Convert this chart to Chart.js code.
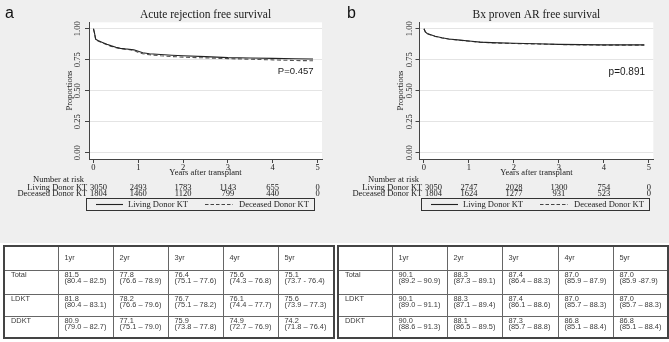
<!DOCTYPE html>
<html><head><meta charset="utf-8">
<script src="https://cdn.jsdelivr.net/npm/chart.js@4.4.1/dist/chart.umd.min.js"></script>
<style>
html,body{margin:0;padding:0;background:#fff;}
#wrap{position:relative;width:669px;height:342px;overflow:hidden;background:#fff;}
#topbg{position:absolute;left:0;top:0;width:669px;height:243px;background:#efefef;}
canvas{position:absolute;top:0;}
#ca{left:0;}
#cb{left:335px;}
.letter{position:absolute;top:5px;font-family:"Liberation Sans",Arial,sans-serif;font-size:16px;line-height:16px;color:#111;}
table.est{position:absolute;top:245px;border-collapse:collapse;table-layout:fixed;border:2px solid #444;
  font-family:"Liberation Sans",Arial,sans-serif;font-size:7.4px;color:#3a3a3a;will-change:transform;}
table.est td{border:1px solid #666;vertical-align:top;padding:1px 0 0 6px;line-height:6.8px;overflow:hidden;white-space:nowrap;}
table.est tr.head td{padding-top:7.5px;}
</style>
</head><body>
<div id="wrap">
  <div id="topbg"></div>
  <canvas id="ca" width="335" height="241"></canvas>
  <canvas id="cb" width="334" height="241"></canvas>
  <div class="letter" style="left:5px;">a</div>
  <div class="letter" style="left:347px;">b</div>
  <table class="est" id="ta" style="left:3px;width:330px;"></table>
  <table class="est" id="tb" style="left:337px;width:330px;"></table>
</div>
<script>
// ---------- data ----------
const titleA = 'Acute rejection free survival';
const titleB = 'Bx proven AR free survival';
const pTextA = 'P=0.457';
const pTextB = 'p=0.891';
const seriesNames = ['Living Donor KT', 'Deceased Donor KT'];
const xTicks = [0, 1, 2, 3, 4, 5];
const yTicks = [0, 0.25, 0.5, 0.75, 1];
const xTitle = 'Years after transplant';
const yTitle = 'Proportions';

const timesA    = [0, 0.02, 0.05, 0.1, 0.2, 0.3, 0.4, 0.5, 0.6, 0.7, 0.8, 0.9, 1.0, 1.1, 1.25, 1.5, 1.75, 2.0, 2.5, 3.0, 3.5, 4.0, 4.5, 4.9];
const livingA   = [1.000, 0.970, 0.915, 0.905, 0.890, 0.875, 0.862, 0.851, 0.842, 0.838, 0.835, 0.830, 0.818, 0.806, 0.799, 0.792, 0.786, 0.782, 0.775, 0.767, 0.764, 0.761, 0.758, 0.756];
const deceasedA = [1.000, 0.965, 0.912, 0.902, 0.886, 0.871, 0.858, 0.848, 0.840, 0.836, 0.832, 0.826, 0.809, 0.798, 0.791, 0.782, 0.776, 0.771, 0.765, 0.759, 0.754, 0.749, 0.744, 0.742];

const timesB    = [0, 0.03, 0.07, 0.15, 0.25, 0.4, 0.55, 0.75, 1.0, 1.25, 1.5, 2.0, 2.5, 3.0, 3.5, 4.0, 4.5, 4.9];
const livingB   = [1.000, 0.975, 0.962, 0.952, 0.940, 0.928, 0.918, 0.910, 0.901, 0.892, 0.888, 0.883, 0.879, 0.874, 0.872, 0.870, 0.870, 0.870];
const deceasedB = [1.000, 0.974, 0.960, 0.950, 0.938, 0.926, 0.917, 0.909, 0.900, 0.891, 0.886, 0.881, 0.877, 0.873, 0.870, 0.868, 0.868, 0.868];

const riskTimes     = [0, 1, 2, 3, 4, 5];
const riskLivingA   = [3050, 2493, 1783, 1143, 655, 0];
const riskDeceasedA = [1804, 1460, 1120, 799, 440, 0];
const riskLivingB   = [3050, 2747, 2028, 1300, 754, 0];
const riskDeceasedB = [1804, 1624, 1277, 931, 523, 0];

const tableYears = ['1yr', '2yr', '3yr', '4yr', '5yr'];
const tableRows  = ['Total', 'LDKT', 'DDKT'];
const estA = [['81.5','77.8','76.4','75.6','75.1'],
              ['81.8','78.2','76.7','76.1','75.6'],
              ['80.9','77.1','75.9','74.9','74.2']];
const ciA  = [['(80.4 – 82.5)','(76.6 – 78.9)','(75.1 – 77.6)','(74.3 – 76.8)','(73.7 - 76.4)'],
              ['(80.4 – 83.1)','(76.6 – 79.6)','(75.1 – 78.2)','(74.4 – 77.7)','(73.9 – 77.3)'],
              ['(79.0 – 82.7)','(75.1 – 79.0)','(73.8 – 77.8)','(72.7 – 76.9)','(71.8 – 76.4)']];
const estB = [['90.1','88.3','87.4','87.0','87.0'],
              ['90.1','88.3','87.4','87.0','87.0'],
              ['90.0','88.1','87.3','86.8','86.8']];
const ciB  = [['(89.2 – 90.9)','(87.3 – 89.1)','(86.4 – 88.3)','(85.9 – 87.9)','(85.9 -87.9)'],
              ['(89.0 – 91.1)','(87.1 – 89.4)','(86.1 – 88.6)','(85.7 – 88.3)','(85.7 – 88.3)'],
              ['(88.6 – 91.3)','(86.5 – 89.5)','(85.7 – 88.8)','(85.1 – 88.4)','(85.1 – 88.4)']];

// ---------- drawing ----------
const SERIF = '"Liberation Serif", "Times New Roman", serif';
const SANS = '"Liberation Sans", Arial, sans-serif';
const INK = '#1a1a1a';

const plotBg = {
  id: 'plotBg',
  beforeDraw(chart) {
    const {ctx, chartArea: a} = chart;
    ctx.save();
    ctx.fillStyle = '#ffffff';
    ctx.fillRect(a.left, a.top, a.right - a.left, a.bottom - a.top);
    ctx.restore();
  }
};

function makeExtras(cfg) {
  return {
    id: 'kmExtras',
    afterDraw(chart) {
      const {ctx, chartArea: a} = chart;
      const xs = chart.scales.x;
      ctx.save();
      ctx.fillStyle = INK;
      ctx.textBaseline = 'alphabetic';
      // p value
      ctx.font = cfg.pSize + 'px ' + SANS;
      ctx.textAlign = 'right';
      ctx.fillText(cfg.pText, a.right + cfg.pDx, cfg.pY);
      // number at risk
      ctx.font = '8.5px ' + SERIF;
      ctx.textAlign = 'right';
      ctx.fillText('Number at risk', 84, 182);
      ctx.fillText(seriesNames[0], 87.3, 190.3);
      ctx.fillText(seriesNames[1], 87.3, 196.2);
      riskTimes.forEach((t, i) => {
        if (i === 0) {
          ctx.textAlign = 'left';
          ctx.fillText(String(cfg.risk[0][i]), 90, 190.3);
          ctx.fillText(String(cfg.risk[1][i]), 90, 196.2);
        } else {
          const px = xs.getPixelForValue(t);
          ctx.textAlign = 'center';
          ctx.fillText(String(cfg.risk[0][i]), px, 190.3);
          ctx.fillText(String(cfg.risk[1][i]), px, 196.2);
        }
      });
      // legend
      const legW = 228;
      const bx = 86;
      const by = 198;
      ctx.strokeStyle = '#333';
      ctx.lineWidth = 1;
      ctx.strokeRect(bx + 0.5, by + 0.5, legW, 12);
      ctx.lineWidth = 1.1;
      ctx.strokeStyle = '#222';
      ctx.beginPath(); ctx.moveTo(bx + 10, 204.5); ctx.lineTo(bx + 37, 204.5); ctx.stroke();
      ctx.strokeStyle = '#444';
      ctx.setLineDash([3.5, 2]);
      ctx.beginPath(); ctx.moveTo(bx + 119, 204.5); ctx.lineTo(bx + 147, 204.5); ctx.stroke();
      ctx.setLineDash([]);
      ctx.textAlign = 'left';
      ctx.font = '8.5px ' + SERIF;
      ctx.fillText(seriesNames[0], bx + 42, 207.3);
      ctx.fillText(seriesNames[1], bx + 153, 207.3);
      ctx.restore();
    }
  };
}

function makeChart(id, cfg) {
  const mk = (ts, vs) => ts.map((t, i) => ({x: t, y: vs[i]}));
  return new Chart(document.getElementById(id), {
    type: 'line',
    data: {
      datasets: [
        {label: seriesNames[0], data: mk(cfg.times, cfg.living), borderColor: '#222', borderWidth: 1.1,
         pointRadius: 0, tension: 0, fill: false},
        {label: seriesNames[1], data: mk(cfg.times, cfg.deceased), borderColor: '#555', borderWidth: 1.1,
         borderDash: [4, 2.5], pointRadius: 0, tension: 0, fill: false}
      ]
    },
    options: {
      responsive: false,
      animation: false,
      events: [],
      layout: {padding: {left: 0, right: cfg.padRight, top: 0, bottom: 63}},
      plugins: {
        legend: {display: false},
        tooltip: {enabled: false},
        title: {display: true, text: cfg.title, fullSize: false, color: INK,
                font: {family: SERIF, size: 11.5, weight: 'normal'}, padding: {top: 8.5, bottom: 0}}
      },
      scales: {
        x: {
          type: 'linear', min: -0.1, max: 5.1,
          afterBuildTicks: (ax) => { ax.ticks = xTicks.map(v => ({value: v})); },
          afterFit: (s) => { s.height = 19; },
          grid: {drawOnChartArea: false, drawTicks: true, tickLength: 4, tickColor: '#444'},
          border: {color: '#444', width: 1},
          ticks: {font: {family: SERIF, size: 8.5}, color: INK, padding: -0.5, maxRotation: 0, autoSkip: false,
                  callback: (v) => String(v)},
          title: {display: true, text: xTitle, color: INK, font: {family: SERIF, size: 8.5}, padding: {top: 0, bottom: 0}}
        },
        y: {
          min: -0.05, max: 1.052,
          afterBuildTicks: (ax) => { ax.ticks = yTicks.map(v => ({value: v})); },
          afterFit: (s) => { s.width = cfg.axisLeft; },
          grid: {color: '#e4e4e4', lineWidth: 1, tickLength: 4, tickColor: '#444'},
          border: {color: '#444', width: 1},
          ticks: {font: {family: SERIF, size: 8.5}, color: INK, minRotation: 90, maxRotation: 90,
                  crossAlign: 'center', padding: cfg.yTickPad, callback: (v) => Number(v).toFixed(2)},
          title: {display: true, text: yTitle, color: INK, font: {family: SERIF, size: 8.5},
                  padding: {top: cfg.yTitlePad, bottom: 0}}
        }
      }
    },
    plugins: [plotBg, makeExtras(cfg)]
  });
}

makeChart('ca', {times: timesA, living: livingA, deceased: deceasedA, title: titleA,
  padRight: 13, axisLeft: 89, yTickPad: 0, yTitlePad: 64.4,
  pText: pTextA, pSize: 9.5, pDx: -8.5, pY: 74,
  risk: [riskLivingA, riskDeceasedA]});
makeChart('cb', {times: timesB, living: livingB, deceased: deceasedB, title: titleB,
  padRight: 15.7, axisLeft: 84.5, yTickPad: -1.5, yTitlePad: 60.5,
  pText: pTextB, pSize: 10, pDx: -8.3, pY: 75,
  risk: [riskLivingB, riskDeceasedB]});

// ---------- tables ----------
function buildTable(id, est, ci, widths) {
  const t = document.getElementById(id);
  let html = '<colgroup>' + widths.map(w => '<col style="width:' + w + 'px">').join('') + '</colgroup>';
  html += '<tr class="head" style="height:24px"><td></td>' + tableYears.map(y => '<td>' + y + '</td>').join('') + '</tr>';
  const hs = [24, 22, 22];
  tableRows.forEach((r, i) => {
    html += '<tr style="height:' + hs[i] + 'px"><td>' + r + '</td>' +
      est[i].map((e, j) => '<td>' + e + '<br>' + ci[i][j] + '</td>').join('') + '</tr>';
  });
  t.innerHTML = html;
}
buildTable('ta', estA, ciA, [54, 55, 55, 55, 55, 56]);
buildTable('tb', estB, ciB, [54, 55, 55, 56, 55, 55]);
</script>
</body></html>
